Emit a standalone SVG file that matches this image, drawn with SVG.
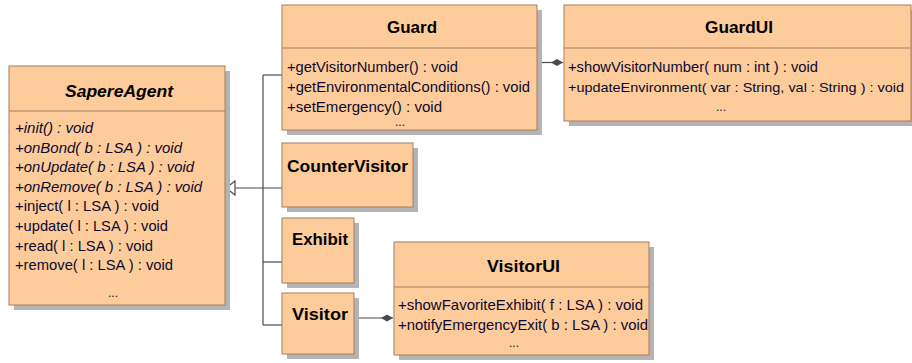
<svg xmlns="http://www.w3.org/2000/svg" width="912" height="363" viewBox="0 0 912 363">
<style>
.shadow{fill:#b4b4b4;}
.box{fill:#fecc9a;stroke:#a27d5f;stroke-width:1;}
.sep{stroke:#a27d5f;stroke-width:1;}
.title{font-family:"Liberation Sans",Arial,sans-serif;font-weight:bold;font-size:17px;fill:#000;}
.m{font-family:"Liberation Sans",Arial,sans-serif;font-size:15px;fill:#0a0a30;}
.it{font-style:italic;}
.dots{font-family:"Liberation Sans",Arial,sans-serif;font-size:12px;fill:#0a0a30;text-anchor:middle;}
.conn{stroke:#4a4a4a;stroke-width:1.2;fill:none;}
</style>
<defs>
<marker id="dia" viewBox="0 0 12 7" refX="12" refY="3.5" markerWidth="12" markerHeight="7" markerUnits="userSpaceOnUse" orient="auto">
<path d="M0,3.5 L6,0 L12,3.5 L6,7 Z" fill="#4a4a4a"/>
</marker>
</defs>
<rect width="912" height="363" fill="#fff"/>

<g id="connectors">
<path class="conn" d="M263,75 V325"/>
<path class="conn" d="M263,75 H282"/>
<path class="conn" d="M235,188 H282"/>
<path class="conn" d="M263,262 H282"/>
<path class="conn" d="M263,325 H282"/>
<path d="M226,188 L235,181 L235,195 Z" fill="#fff" stroke="#4a4a4a" stroke-width="1.2"/>
<path class="conn" d="M537,62.5 H563" marker-end="url(#dia)"/>
<path class="conn" d="M354,318 H393" marker-end="url(#dia)"/>
</g>

<g id="SapereAgent">
<rect class="shadow" x="14" y="71" width="216" height="239"/>
<rect class="box" x="9" y="66" width="216" height="239"/>
<line class="sep" x1="9" y1="111" x2="225" y2="111"/>
<text class="title it" x="65" y="97" textLength="108" lengthAdjust="spacingAndGlyphs">SapereAgent</text>
<text class="m it" x="15" y="133" textLength="78" lengthAdjust="spacingAndGlyphs">+init() : void</text>
<text class="m it" x="15" y="152.6" textLength="167" lengthAdjust="spacingAndGlyphs">+onBond( b : LSA ) : void</text>
<text class="m it" x="15" y="172.2" textLength="179" lengthAdjust="spacingAndGlyphs">+onUpdate( b : LSA ) : void</text>
<text class="m it" x="15" y="191.8" textLength="187" lengthAdjust="spacingAndGlyphs">+onRemove( b : LSA ) : void</text>
<text class="m" x="15" y="211.4" textLength="144" lengthAdjust="spacingAndGlyphs">+inject( l : LSA ) : void</text>
<text class="m" x="15" y="231" textLength="153" lengthAdjust="spacingAndGlyphs">+update( l : LSA ) : void</text>
<text class="m" x="15" y="250.6" textLength="138" lengthAdjust="spacingAndGlyphs">+read( l : LSA ) : void</text>
<text class="m" x="15" y="270.2" textLength="158" lengthAdjust="spacingAndGlyphs">+remove( l : LSA ) : void</text>
<text class="dots" x="113" y="297">...</text>
</g>

<g id="Guard">
<rect class="shadow" x="287" y="10" width="255" height="125"/>
<rect class="box" x="282" y="5" width="255" height="125"/>
<line class="sep" x1="282" y1="48" x2="537" y2="48"/>
<text class="title" x="387" y="33" textLength="50" lengthAdjust="spacingAndGlyphs">Guard</text>
<text class="m" x="287" y="72" textLength="171" lengthAdjust="spacingAndGlyphs">+getVisitorNumber() : void</text>
<text class="m" x="287" y="92" textLength="243" lengthAdjust="spacingAndGlyphs">+getEnvironmentalConditions() : void</text>
<text class="m" x="287" y="112" textLength="155" lengthAdjust="spacingAndGlyphs">+setEmergency() : void</text>
<text class="dots" x="400" y="126">...</text>
</g>

<g id="GuardUI">
<rect class="shadow" x="569" y="10" width="343" height="116"/>
<rect class="box" x="564" y="5" width="347" height="116"/>
<line class="sep" x1="564" y1="48" x2="911" y2="48"/>
<text class="title" x="705" y="33" textLength="68" lengthAdjust="spacingAndGlyphs">GuardUI</text>
<text class="m" x="568" y="72" textLength="250" lengthAdjust="spacingAndGlyphs">+showVisitorNumber( num : int ) : void</text>
<text class="m" x="568" y="92" style="font-size:13.5px" textLength="336" lengthAdjust="spacingAndGlyphs">+updateEnvironment( var : String, val : String ) : void</text>
<text class="dots" x="721" y="111">...</text>
</g>

<g id="CounterVisitor">
<rect class="shadow" x="287" y="148" width="131" height="64"/>
<rect class="box" x="282" y="143" width="131" height="64"/>
<text class="title" x="287" y="172" textLength="121" lengthAdjust="spacingAndGlyphs">CounterVisitor</text>
</g>

<g id="Exhibit">
<rect class="shadow" x="287" y="223" width="72" height="65"/>
<rect class="box" x="282" y="218" width="72" height="65"/>
<text class="title" x="292" y="245" textLength="56" lengthAdjust="spacingAndGlyphs">Exhibit</text>
</g>

<g id="Visitor">
<rect class="shadow" x="287" y="298" width="72" height="61"/>
<rect class="box" x="282" y="293" width="72" height="61"/>
<text class="title" x="292" y="320" textLength="56" lengthAdjust="spacingAndGlyphs">Visitor</text>
</g>

<g id="VisitorUI">
<rect class="shadow" x="399" y="247" width="255" height="113"/>
<rect class="box" x="394" y="242" width="255" height="113"/>
<line class="sep" x1="394" y1="287" x2="649" y2="287"/>
<text class="title" x="487" y="272" textLength="73" lengthAdjust="spacingAndGlyphs">VisitorUI</text>
<text class="m" x="398" y="310" textLength="245" lengthAdjust="spacingAndGlyphs">+showFavoriteExhibit( f : LSA ) : void</text>
<text class="m" x="398" y="330" textLength="250" lengthAdjust="spacingAndGlyphs">+notifyEmergencyExit( b : LSA ) : void</text>
<text class="dots" x="514" y="347">...</text>
</g>
</svg>
